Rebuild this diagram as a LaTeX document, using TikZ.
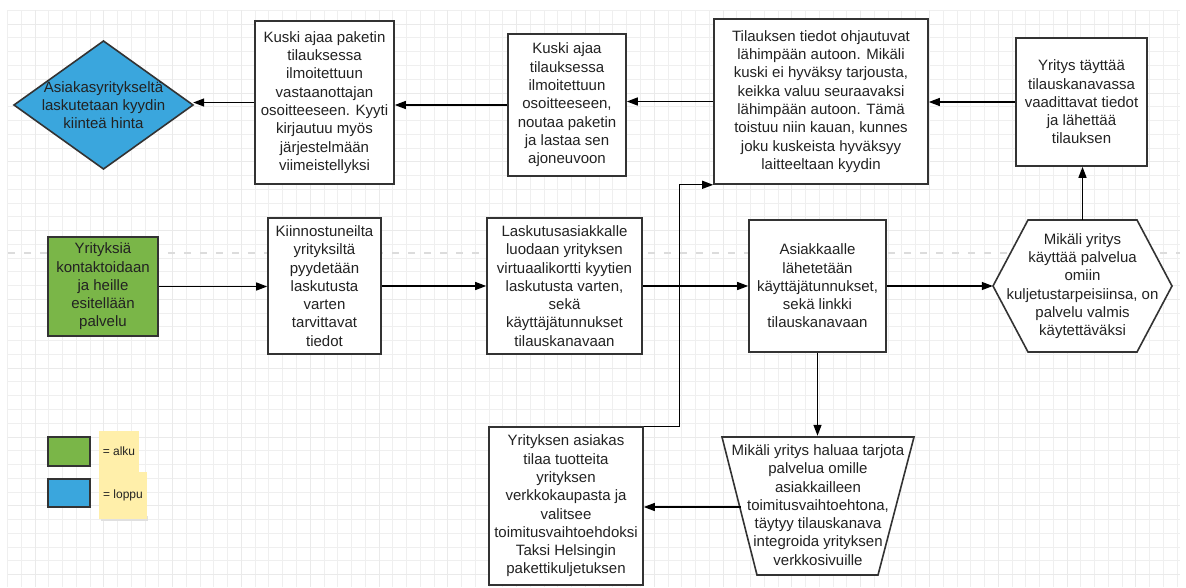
\documentclass[tikz,border=0pt]{standalone}
\usepackage{fontspec}
\setmainfont{Liberation Sans}
\usetikzlibrary{arrows.meta}
\definecolor{lgreen}{HTML}{7AB648}
\definecolor{lblue}{HTML}{3AA6DD}
\definecolor{notecol}{HTML}{FFEFAA}
\definecolor{edgecol}{HTML}{333333}
\definecolor{gridminor}{HTML}{EFEFEF}
\definecolor{gridmajor}{HTML}{EAEAEA}
\definecolor{dashcol}{HTML}{DCDCDC}
\definecolor{txtcol}{HTML}{222222}
\begin{document}
\begin{tikzpicture}[x=1pt,y=-1pt,
  txt/.style={align=center, inner sep=0pt, font=\fontsize{15}{18.3}\selectfont, text=txtcol},
  box/.style={txt, draw=edgecol, line width=1.6pt, fill=white},
  shapeline/.style={draw=edgecol, line width=1.6pt},
  conn/.style={line width=1.3pt, draw=black, -{Triangle[length=11pt,width=8pt]}},
  legendbox/.style={draw=edgecol, line width=1.6pt, inner sep=0pt},
  notebox/.style={fill=notecol, inner sep=0pt, font=\fontsize{12}{14}\selectfont, text=txtcol}
]
\useasboundingbox (0,0) rectangle (1186,587);
\fill[white] (0,0) rectangle (1186,587);
% grid
\foreach \i in {0,...,85} {
  \pgfmathsetmacro\xx{7.5+13.76*\i}
  \draw[gridminor, line width=0.9pt] (\xx,10.4) -- (\xx,587);
}
\foreach \j in {0,...,41} {
  \pgfmathsetmacro\yy{10.4+13.76*\j}
  \draw[gridminor, line width=0.9pt] (7.5,\yy) -- (1180,\yy);
}
\foreach \k in {0,...,16} {
  \pgfmathsetmacro\xx{35+68.8*\k}
  \draw[gridmajor, line width=1pt] (\xx,10.4) -- (\xx,587);
}
\foreach \k in {0,...,8} {
  \pgfmathsetmacro\yy{24.2+68.8*\k}
  \draw[gridmajor, line width=1pt] (7.5,\yy) -- (1180,\yy);
}
% dashed separator
\draw[dashcol, line width=2.5pt, dash pattern=on 7pt off 9pt] (8,253) -- (1180,253);

% top row
\fill[lblue] (14,105) -- (103.5,41) -- (193,105) -- (103.5,169) -- cycle;
\draw[shapeline] (14,105) -- (103.5,41) -- (193,105) -- (103.5,169) -- cycle;
\node[txt, minimum width=179pt, minimum height=128pt] (dia) at (103.5,105)
  {Asiakasyritykseltä\\laskutetaan kyydin\\kiinteä hinta};

\node[box, minimum width=139pt, minimum height=163pt] (k2) at (324.5,102.5)
  {Kuski ajaa paketin\\tilauksessa\\ilmoitettuun\\vastaanottajan\\osoitteeseen. Kyyti\\kirjautuu myös\\järjestelmään\\viimeistellyksi};

\node[box, minimum width=118pt, minimum height=142pt] (k3) at (567,105)
  {Kuski ajaa\\tilauksessa\\ilmoitettuun\\osoitteeseen,\\noutaa paketin\\ja lastaa sen\\ajoneuvoon};

\node[box, minimum width=214pt, minimum height=165pt] (til) at (821,101.5)
  {Tilauksen tiedot ohjautuvat\\lähimpään autoon. Mikäli\\kuski ei hyväksy tarjousta,\\keikka valuu seuraavaksi\\lähimpään autoon. Tämä\\toistuu niin kauan, kunnes\\joku kuskeista hyväksyy\\laitteeltaan kyydin};

\node[box, minimum width=131pt, minimum height=128pt] (yt) at (1081.5,102)
  {Yritys täyttää\\tilauskanavassa\\vaadittavat tiedot\\ja lähettää\\tilauksen};

% middle row
\node[box, fill=lgreen, minimum width=110pt, minimum height=99pt] (start) at (103,286.5)
  {Yrityksiä\\kontaktoidaan\\ja heille\\esitellään\\palvelu};

\node[box, minimum width=113pt, minimum height=136pt] (kiin) at (324.5,286)
  {Kiinnostuneilta\\yrityksiltä\\pyydetään\\laskutusta\\varten\\tarvittavat\\tiedot};

\node[box, minimum width=155pt, minimum height=136pt] (lask) at (564.5,286)
  {Laskutusasiakkalle\\luodaan yrityksen\\virtuaalikortti kyytien\\laskutusta varten,\\sekä\\käyttäjätunnukset\\tilauskanavaan};

\node[box, minimum width=137pt, minimum height=132pt] (asi) at (817.5,286)
  {Asiakkaalle\\lähetetään\\käyttäjätunnukset,\\sekä linkki\\tilauskanavaan};

\fill[white] (993,286) -- (1028,220) -- (1137,220) -- (1172,286) -- (1137,352) -- (1028,352) -- cycle;
\draw[shapeline] (993,286) -- (1028,220) -- (1137,220) -- (1172,286) -- (1137,352) -- (1028,352) -- cycle;
\node[txt, minimum width=179pt, minimum height=132pt] (hex) at (1082.5,286)
  {Mikäli yritys\\käyttää palvelua\\omiin\\kuljetustarpeisiinsa, on\\palvelu valmis\\käytettäväksi};

% bottom row
\fill[white] (722,437) -- (914,437) -- (878,575) -- (757,575) -- cycle;
\draw[shapeline] (722,437) -- (914,437) -- (878,575) -- (757,575) -- cycle;
\node[txt, minimum width=192pt, minimum height=138pt] (trap) at (818,505)
  {Mikäli yritys haluaa tarjota\\palvelua omille\\asiakkailleen\\toimitusvaihtoehtona,\\täytyy tilauskanava\\integroida yrityksen\\verkkosivuille};
\coordinate (trapL) at (740.5,507);

\node[box, minimum width=154pt, minimum height=158pt] (ya) at (566,506)
  {Yrityksen asiakas\\tilaa tuotteita\\yrityksen\\verkkokaupasta ja\\valitsee\\toimitusvaihtoehdoksi\\Taksi Helsingin\\pakettikuljetuksen};

% legend
\node[legendbox, fill=lgreen, minimum width=42pt, minimum height=29pt] (lg) at (69,451.5) {};
\node[legendbox, fill=lblue, minimum width=42pt, minimum height=28pt] (lb) at (69,493) {};
\node[notebox, minimum width=40pt, minimum height=41pt] (n1) at (119,451.5) {= alku};
\fill[black!12] (101,516) rectangle (148,521);
\node[notebox, minimum width=48pt, minimum height=47pt] (n2) at (123,495.5) {= loppu};

% connectors
\draw[conn] (yt.west) -- (yt.west -| til.east);
\draw[conn] (til.west) -- (til.west -| k3.east);
\draw[conn] (k3.west) -- (k3.west -| k2.east);
\draw[conn] (k2.west) -- (k2.west -| dia.east);
\draw[conn] (start.east) -- (start.east -| kiin.west);
\draw[conn] (kiin.east) -- (kiin.east -| lask.west);
\draw[conn] (lask.east) -- (lask.east -| asi.west);
\draw[conn] (asi.east) -- (asi.east -| hex.west);
\draw[conn] (hex.north) -- (hex.north |- yt.south);
\draw[conn] (asi.south) -- (asi.south |- trap.north);
\draw[conn] (trapL) -- (trapL -| ya.east);
\draw[conn] (ya.north east) -- ++(36,0) |- (til.south west);
\end{tikzpicture}
\end{document}
